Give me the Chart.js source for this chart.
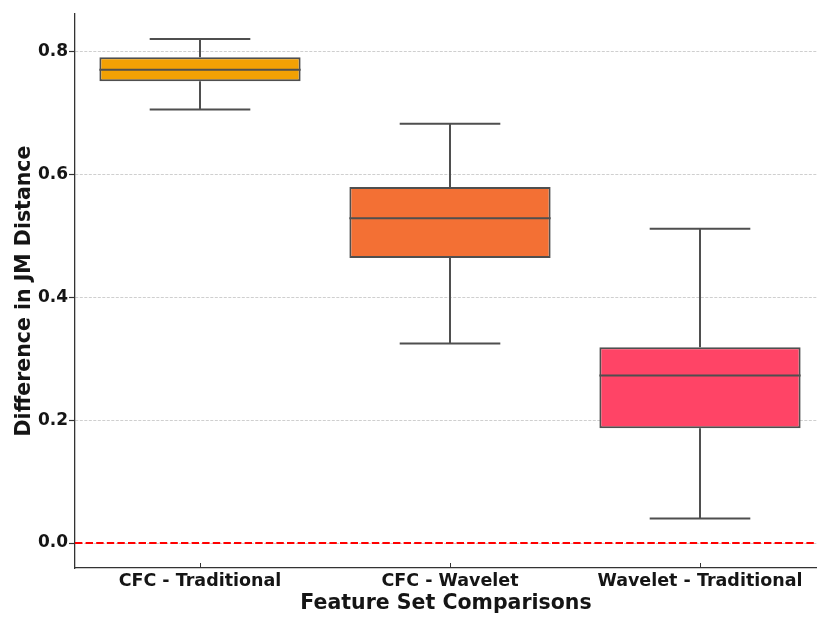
<!DOCTYPE html>
<html>
<head>
<meta charset="utf-8">
<script src="https://cdn.jsdelivr.net/npm/chart.js@4"></script>
<style>
  html, body { margin: 0; padding: 0; background: #fff; }
  canvas { display: block; }
</style>
</head>
<body>
<canvas id="boxChart" width="817" height="617"></canvas>
<script>
// Box plot summary per comparison
const categories = ['CFC - Traditional', 'CFC - Wavelet', 'Wavelet - Traditional'];
const whiskerLow = [0.706, 0.325, 0.040];
const q1 = [0.752, 0.464, 0.187];
const median = [0.771, 0.529, 0.273];
const q3 = [0.791, 0.580, 0.319];
const whiskerHigh = [0.821, 0.683, 0.512];
const boxColors = ['#f2a104', '#f37034', '#ff4466'];
const yTicks = [0.0, 0.2, 0.4, 0.6, 0.8];

const EDGE = '#4f4f4f';
const FONT = "'DejaVu Sans', sans-serif";

/**
 * Whiskers, caps and medians drawn through the chart scales
 */
const boxExtras = {
  id: 'boxExtras',
  beforeDatasetsDraw(chart) {
    const { ctx, chartArea, scales: { y } } = chart;
    // zero reference line
    ctx.save();
    ctx.strokeStyle = '#ff0000';
    ctx.lineWidth = 2;
    ctx.setLineDash([7.4, 3.2]);
    const y0 = y.getPixelForValue(0);
    ctx.beginPath();
    ctx.moveTo(chartArea.left, y0);
    ctx.lineTo(chartArea.right, y0);
    ctx.stroke();
    ctx.restore();
  },
  afterDatasetsDraw(chart) {
    const { ctx, chartArea, scales: { x, y } } = chart;
    const meta = chart.getDatasetMeta(0);
    ctx.save();
    ctx.strokeStyle = EDGE;
    ctx.lineWidth = 2;
    ctx.setLineDash([]);
    categories.forEach((c, i) => {
      const cx = x.getPixelForValue(i);
      const half = meta.data[i].width / 2;
      const capHalf = half / 2;
      ctx.beginPath();
      // upper whisker + cap
      ctx.moveTo(cx, y.getPixelForValue(q3[i]));
      ctx.lineTo(cx, y.getPixelForValue(whiskerHigh[i]));
      ctx.moveTo(cx - capHalf, y.getPixelForValue(whiskerHigh[i]));
      ctx.lineTo(cx + capHalf, y.getPixelForValue(whiskerHigh[i]));
      // lower whisker + cap
      ctx.moveTo(cx, y.getPixelForValue(q1[i]));
      ctx.lineTo(cx, y.getPixelForValue(whiskerLow[i]));
      ctx.moveTo(cx - capHalf, y.getPixelForValue(whiskerLow[i]));
      ctx.lineTo(cx + capHalf, y.getPixelForValue(whiskerLow[i]));
      // median
      ctx.moveTo(cx - half, y.getPixelForValue(median[i]));
      ctx.lineTo(cx + half, y.getPixelForValue(median[i]));
      ctx.stroke();
    });
    // small inward ticks on the x axis
    ctx.strokeStyle = '#333';
    ctx.lineWidth = 1;
    categories.forEach((c, i) => {
      const px = Math.round(x.getPixelForValue(i)) + 0.5;
      ctx.beginPath();
      ctx.moveTo(px, chartArea.bottom);
      ctx.lineTo(px, chartArea.bottom - 5);
      ctx.stroke();
    });
    ctx.restore();
  }
};

const ctx = document.getElementById('boxChart').getContext('2d');
new Chart(ctx, {
  type: 'bar',
  data: {
    datasets: [{
      data: categories.map((c, i) => ({ x: i, y: [q1[i], q3[i]] })),
      backgroundColor: boxColors,
      borderColor: EDGE,
      borderWidth: 2,
      borderSkipped: false,
      categoryPercentage: 1.0,
      barPercentage: 0.805,
    }],
  },
  options: {
    responsive: false,
    animation: false,
    layout: { padding: { top: 14, right: 0, left: 0, bottom: 0 } },
    plugins: {
      legend: { display: false },
      tooltip: { enabled: false },
    },
    scales: {
      x: {
        type: 'linear',
        offset: false,
        min: -0.5,
        max: 2.468,
        afterFit: s => { s.height = 49; },
        afterBuildTicks: s => { s.ticks = categories.map((c, i) => ({ value: i })); },
        grid: { display: true, drawOnChartArea: false, drawTicks: false, offset: false },
        border: { display: true, color: '#333', width: 1.3 },
        ticks: {
          autoSkip: false,
          maxRotation: 0,
          padding: 3,
          color: '#151515',
          font: { family: FONT, size: 17.5, weight: 'bold' },
          callback: v => categories[v],
        },
        title: {
          display: true,
          text: 'Feature Set Comparisons',
          color: '#151515',
          font: { family: FONT, size: 20.5, weight: 'bold', lineHeight: 1.2 },
          padding: { top: 0, bottom: 1 },
        },
      },
      y: {
        min: -0.0407,
        max: 0.8616,
        afterFit: s => { s.width = 75; },
        afterBuildTicks: s => { s.ticks = yTicks.map(v => ({ value: v })); },
        grid: {
          color: '#cfcfcf',
          lineWidth: 1,
          tickLength: 6,
          tickColor: '#333',
          tickWidth: 1.2,
        },
        border: { display: true, color: '#333', width: 1.3, dash: [3, 1.5] },
        ticks: {
          padding: 1,
          color: '#151515',
          font: { family: FONT, size: 17, weight: 'bold' },
          callback: v => v.toFixed(1),
        },
        title: {
          display: true,
          text: 'Difference in JM Distance',
          color: '#151515',
          font: { family: FONT, size: 20.5, weight: 'bold', lineHeight: 1.2 },
          padding: { top: 12, bottom: 0 },
        },
      },
    },
  },
  plugins: [boxExtras],
});
</script>
</body>
</html>
